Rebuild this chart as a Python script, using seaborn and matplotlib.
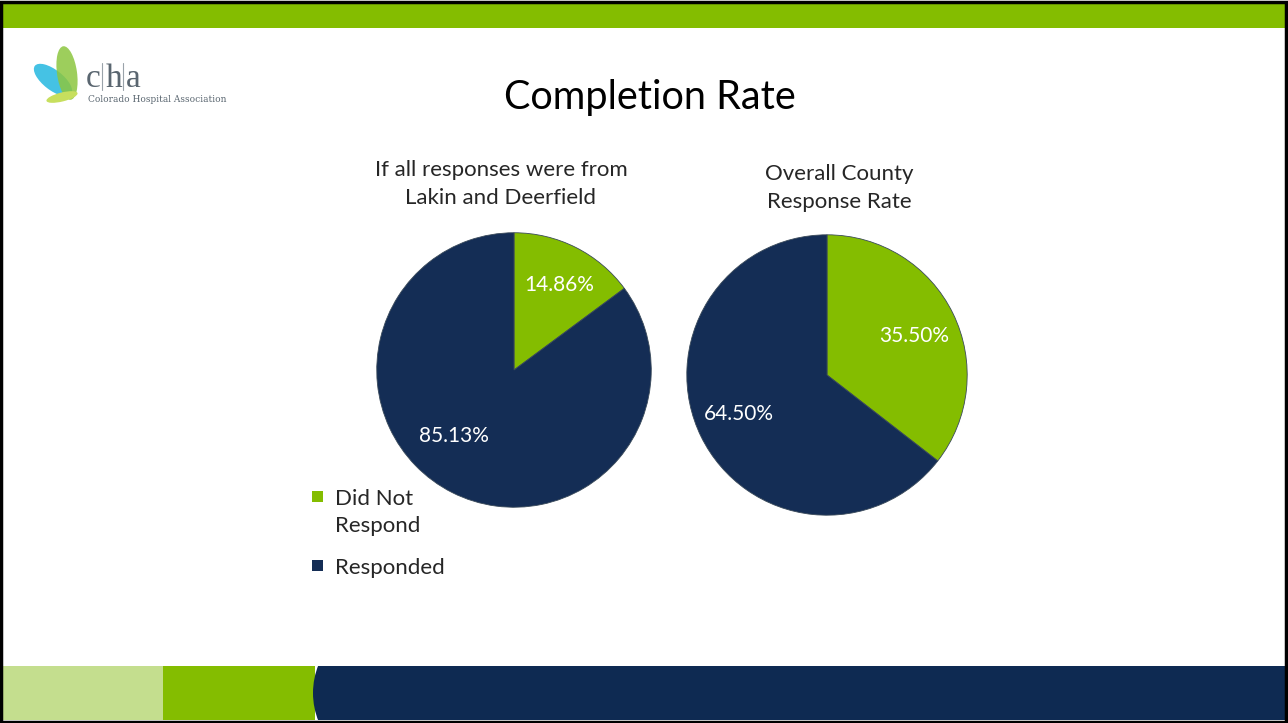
import matplotlib
matplotlib.use("Agg")
import matplotlib.pyplot as plt
import matplotlib.patches as mpatches
import seaborn as sns

# data
categories = ["Did Not\nRespond", "Responded"]
pie_titles = ["If all responses were from\nLakin and Deerfield", "Overall County\nResponse Rate"]
lakin_deerfield = [14.86, 85.13]
overall_county = [35.50, 64.50]

sns.set_theme(style="white")
plt.rcParams['font.family'] = ['Lato', 'DejaVu Sans']

green = "#84BD00"
navy = "#142D55"
light_green = "#C4DE8E"
band_navy = "#0E2A52"
colors = [green, navy]

W, H = 1288, 723
fig = plt.figure(figsize=(W / 100, H / 100), dpi=100)

# background slide decoration
bg = fig.add_axes([0, 0, 1, 1])
bg.set_xlim(0, W)
bg.set_ylim(H, 0)
bg.axis("off")
bg.add_patch(mpatches.Rectangle((3, 3), W - 6, 25, color=green, lw=0))
bg.add_patch(mpatches.Rectangle((3, 666), 160, 54, color=light_green, lw=0))
bg.add_patch(mpatches.Rectangle((163, 666), 152, 54, color=green, lw=0))
bg.add_patch(mpatches.Rectangle((340, 666), W - 343, 54, color=band_navy, lw=0))
clip = mpatches.Rectangle((3, 666), W - 6, 54, transform=bg.transData)
circ = mpatches.Circle((388, 693), 75, color=band_navy, lw=0)
bg.add_patch(circ)
circ.set_clip_path(clip)
bg.add_patch(mpatches.Rectangle((1.5, 1.5), W - 3, H - 3, fill=False, ec="black", lw=2.5))

# logo
bg.add_patch(mpatches.Ellipse((53, 80), 46, 20, angle=38, color="#3BBFE3", lw=0, alpha=0.95))
bg.add_patch(mpatches.Ellipse((67, 73), 20, 54, angle=-8, color="#8CC63F", lw=0, alpha=0.85))
bg.add_patch(mpatches.Ellipse((62, 97), 32, 9, angle=-14, color="#C7DF5E", lw=0))
grey = "#5A6670"
for letter, lx in zip("cha", [86, 106, 126]):
    bg.text(lx, 87, letter, fontsize=24, family="Liberation Serif", color=grey, va="baseline")
for sx in [102.5, 123]:
    bg.plot([sx, sx], [63, 90], color="#9aa3aa", lw=0.8)
bg.text(88, 99, "Colorado Hospital Association", fontsize=6.5, family="DejaVu Serif",
        color=grey, va="center")

# title
bg.text(650, 98, "Completion Rate", fontsize=28.5, ha="center", va="center", color="black")


def draw_pie(cx, cy, r, values, label_pos):
    ax = fig.add_axes([(cx - r) / W, (H - cy - r) / H, 2 * r / W, 2 * r / H])
    wedges, _ = ax.pie(values, colors=colors, startangle=90, counterclock=False,
                       wedgeprops=dict(edgecolor="#3a4a5a", linewidth=0.6))
    ax.set_xlim(-1.02, 1.02)
    ax.set_ylim(-1.02, 1.02)
    for v, (x, y) in zip(values, label_pos):
        ax.text(x, y, f"{v:.2f}%", color="white", fontsize=15, ha="center", va="center")
    return ax, wedges


ax1, wedges = draw_pie(514, 370, 140, lakin_deerfield, [(0.33, 0.62), (-0.44, -0.48)])
ax2, _ = draw_pie(827, 375, 143, overall_county, [(0.62, 0.28), (-0.63, -0.28)])

bg.text(501, 184, pie_titles[0], fontsize=16, ha="center", va="center", linespacing=1.45)
bg.text(839, 188, pie_titles[1], fontsize=16, ha="center", va="center", linespacing=1.45)

# legend (marker aligned with the first line of each label)
for c, lab, ly in zip(colors, categories, [497, 566]):
    bg.add_patch(mpatches.Rectangle((312, ly - 6), 11, 11, color=c, lw=0))
    bg.text(335, ly - 8, lab, fontsize=16, va="top", ha="left", linespacing=1.45)

fig.savefig("out.png", dpi=100)
